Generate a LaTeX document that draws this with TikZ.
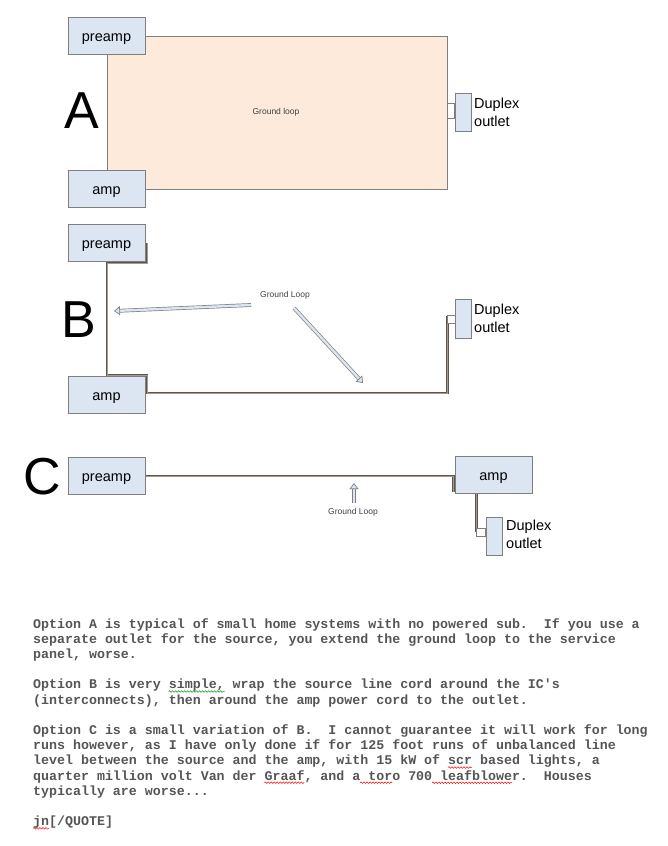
\documentclass[tikz,border=0pt]{standalone}
\usepackage{fontspec}
\setmainfont{Liberation Sans}
\newfontfamily\monofam{Liberation Mono}
\usetikzlibrary{arrows.meta,decorations.pathmorphing}
\definecolor{boxfill}{HTML}{DCE6F2}
\definecolor{boxline}{HTML}{7F7F7F}
\definecolor{peach}{HTML}{FDEADA}
\definecolor{wireout}{HTML}{5E554D}
\definecolor{wirein}{HTML}{A39A91}
\definecolor{txtgray}{HTML}{555555}
\pgfdeclarelayer{bg}
\pgfsetlayers{bg,main}
\tikzset{
  unitbox/.style={rectangle, draw=boxline, fill=boxfill, line width=0.8pt, inner sep=0pt,
    minimum width=77pt, minimum height=37pt, text height=11pt, text depth=0pt,
    font=\fontsize{14.5}{17}\selectfont},
  outletbox/.style={rectangle, draw=boxline, fill=boxfill, line width=0.8pt, inner sep=0pt,
    minimum width=16pt, minimum height=38pt},
  outlettext/.style={anchor=west, align=left, inner sep=0pt, font=\fontsize{14.5}{18}\selectfont},
  bigletter/.style={inner sep=0pt, font=\fontsize{52}{52}\selectfont},
  smalllabel/.style={inner sep=0pt, text=black!75, font=\fontsize{8.5}{10}\selectfont},
  wire/.style={draw=wireout, double=wirein, line width=1pt, double distance=0.9pt},
  plug/.style={draw=boxline, fill=white, line width=0.7pt},
  hollowarrow/.style={draw=boxline, double=boxfill, line width=0.7pt, double distance=2.4pt,
    -{Triangle[open, fill=boxfill, length=6pt, width=9pt, line width=0.7pt]}},
  txt/.style={anchor=base west, inner sep=0pt, text=txtgray,
    font=\monofam\bfseries\fontsize{13.3}{15.2}\selectfont},
  squig/.style={line width=0.5pt, decorate, decoration={snake, segment length=3pt, amplitude=0.8pt}},
}
\begin{document}
\begin{tikzpicture}[x=1pt,y=-1pt]
\useasboundingbox (0,0) rectangle (667,846);

% ---------------- A ----------------
\draw[fill=peach, draw=boxline, line width=0.8pt] (107,36) rectangle (447,189);
\node[unitbox] (apre) at (106.5,35.5) {preamp};
\node[unitbox] (aamp) at (106.5,189) {amp};
\node[outletbox] (aout) at (463,112.5) {};
\draw[plug] (447,103.5) rectangle (aout.west |- 0,118);
\node[outlettext] (aouttxt) at (474,112) {Duplex\\outlet};
\node[bigletter] (la) at (82,111) {A};
\node[smalllabel] (agl) at (276,112) {Ground loop};

% ---------------- B ----------------
\node[unitbox] (bpre) at (106.5,242.5) {preamp};
\node[unitbox] (bamp) at (106.5,394.5) {amp};
\node[outletbox, minimum height=39pt] (bout) at (463.5,318.5) {};
\node[outlettext] (bouttxt) at (474,318) {Duplex\\outlet};
\node[bigletter] (lb) at (79,320) {B};
\node[smalllabel] (bgl) at (285,295) {Ground Loop};
\coordinate (bw1) at (147,243);
\coordinate (bw2) at (147,263);
\coordinate (bw3) at (107,263);
\coordinate (bw4) at (107,375.5);
\coordinate (bw5) at (147,375.5);
\coordinate (bw6) at (147,393);
\coordinate (bw7) at (447.5,393);
\coordinate (bw8) at (447.5,315.5);
\begin{pgfonlayer}{bg}
\draw[wire] (bw1) -- (bw2) -- (bw3) -- (bw4) -- (bw5) -- (bw6) -- (bw7) -- (bw8);
\end{pgfonlayer}
\draw[plug] (bw8) rectangle (bout.west |- 0,323);
\coordinate (ba1s) at (251,305);
\coordinate (ba1e) at (114,311);
\coordinate (ba2s) at (294,308);
\coordinate (ba2e) at (363,383);
\draw[hollowarrow] (ba1s) -- (ba1e);
\draw[hollowarrow] (ba2s) -- (ba2e);

% ---------------- C ----------------
\node[unitbox] (cpre) at (106.5,475.5) {preamp};
\node[unitbox] (camp) at (493.5,475) {amp};
\node[outletbox] (cout) at (494,536) {};
\node[outlettext] (couttxt) at (506,534) {Duplex\\outlet};
\node[bigletter] (lc) at (42,477) {C};
\node[smalllabel] (cgl) at (353,512) {Ground Loop};
\coordinate (cw1) at (453.5,476);
\coordinate (cw2) at (453.5,492);
\coordinate (cw3) at (476.5,531.5);
\begin{pgfonlayer}{bg}
\draw[wire] (cpre.east |- 0,476) -- (cw1) -- (cw2);
\draw[wire] (camp.south -| cw3) -- (cw3);
\end{pgfonlayer}
\draw[plug] (476.5,528) rectangle (cout.west |- 0,536);
\coordinate (ca1s) at (354,503);
\coordinate (ca1e) at (354,483);
\draw[hollowarrow] (ca1s) -- (ca1e);

% ---------------- text ----------------
\frenchspacing
\node[txt] (t1) at (33,628) {Option A is typical of small home systems with no powered sub.~~If you use a};
\node[txt] (t2) at (33,643.2) {separate outlet for the source, you extend the ground loop to the service};
\node[txt] (t3) at (33,658.4) {panel, worse.};
\node[txt] (t4) at (33,688.8) {Option B is very simple, wrap the source line cord around the IC's};
\node[txt] (t5) at (33,704) {(interconnects), then around the amp power cord to the outlet.};
\node[txt] (t6) at (33,734.4) {Option C is a small variation of B.~~I cannot guarantee it will work for long};
\node[txt] (t7) at (33,749.6) {runs however, as I have only done if for 125 foot runs of unbalanced line};
\node[txt] (t8) at (33,764.8) {level between the source and the amp, with 15 kW of scr based lights, a};
\node[txt] (t9) at (33,780) {quarter million volt Van der Graaf, and a toro 700 leafblower.~~Houses};
\node[txt] (t10) at (33,795.2) {typically are worse...};
\node[txt] (t11) at (33,825.6) {jn[/QUOTE]};

% spell-check squiggles
\def\cw{7.98}
\draw[squig, green!55!black] ({33+17*\cw},691.5) -- ({33+24*\cw},691.5);
\draw[squig, red] ({33+52*\cw},767.5) -- ({33+55*\cw},767.5);
\draw[squig, red] ({33+29*\cw},782.7) -- ({33+34*\cw},782.7);
\draw[squig, red] ({33+41*\cw},782.7) -- ({33+45*\cw},782.7);
\draw[squig, red] ({33+50*\cw},782.7) -- ({33+60*\cw},782.7);
\draw[squig, red] ({33+0*\cw},828.3) -- ({33+2*\cw},828.3);
\end{tikzpicture}
\end{document}
